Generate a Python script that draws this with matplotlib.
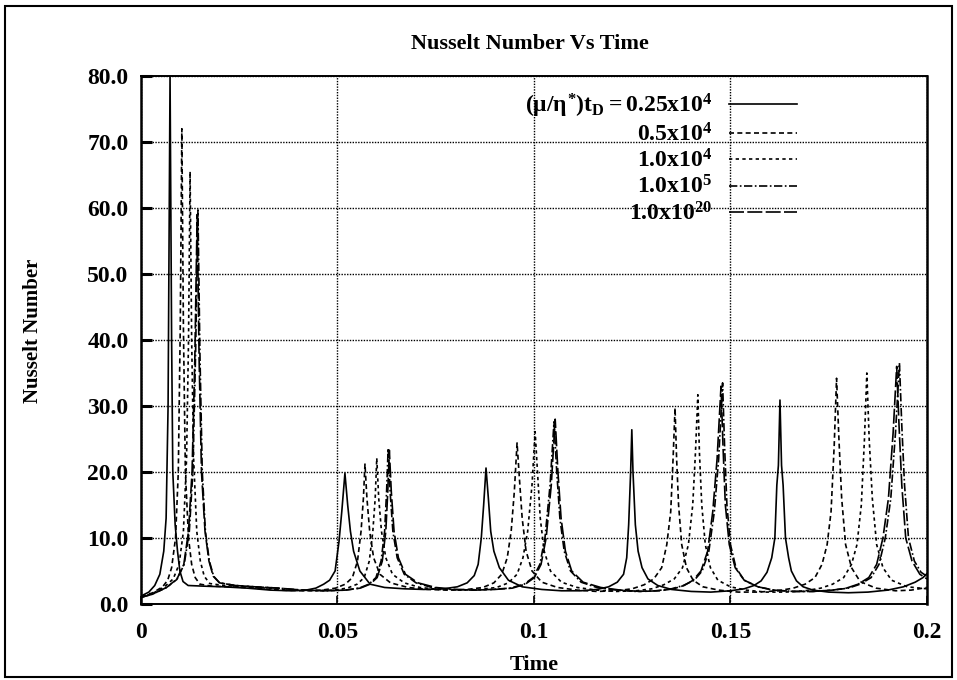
import matplotlib
matplotlib.use('Agg')
import matplotlib.pyplot as plt
from matplotlib.patches import Rectangle

plt.rcParams['font.family'] = ['Liberation Serif', 'DejaVu Serif']
plt.rcParams['font.weight'] = 'bold'
plt.rcParams['mathtext.fontset'] = 'custom'
plt.rcParams['mathtext.rm'] = 'Liberation Serif:bold'
plt.rcParams['mathtext.it'] = 'Liberation Serif:bold'
plt.rcParams['mathtext.bf'] = 'Liberation Serif:bold'

# (mu/eta*) t_D = 0.25x10^4
t_a = [0.000, 0.002, 0.0035, 0.0048, 0.0058, 0.0064, 0.0069, 0.0074, 0.0078, 0.0081, 0.0087, 0.0093, 0.0099, 0.0107,
       0.012, 0.016, 0.021, 0.027, 0.033, 0.038, 0.042, 0.0445, 0.0465, 0.048, 0.0494, 0.0504, 0.0511, 0.0519, 0.0526,
       0.0533, 0.0541, 0.0557, 0.0583, 0.062, 0.067, 0.072, 0.077, 0.0805, 0.083, 0.0848, 0.0858, 0.0866, 0.0872, 0.0878,
       0.0884, 0.089, 0.0898, 0.0912, 0.0935, 0.097, 0.102, 0.107, 0.112, 0.116, 0.119, 0.1212, 0.1228, 0.1236, 0.1241,
       0.1246, 0.1249, 0.1252, 0.1258, 0.1265, 0.1275, 0.129, 0.1315, 0.135, 0.140, 0.145, 0.150, 0.1535, 0.156, 0.1578,
       0.1593, 0.1605, 0.1613, 0.1618, 0.1622, 0.1626, 0.163, 0.1634, 0.164, 0.1648, 0.1655, 0.1668, 0.1685, 0.171, 0.175,
       0.180, 0.185, 0.190, 0.194, 0.197, 0.199, 0.200]
nu_a = [1.2, 1.8, 2.8, 4.5, 8, 13, 30, 80, 40, 20, 12, 8, 5, 3.4,
        2.8, 2.7, 2.6, 2.4, 2.1, 2.0, 2.1, 2.4, 3.0, 3.6, 5.0, 9.5, 14, 19.8, 15,
        11, 8, 5, 3, 2.5, 2.3, 2.2, 2.3, 2.6, 3.2, 4.3, 6, 10, 15, 20.6,
        16, 11, 8, 5.5, 3.6, 2.6, 2.2, 2.0, 2.0, 2.2, 2.6, 3.3, 4.5, 7, 12,
        20, 26.4, 20, 12, 8, 5.5, 3.8, 2.8, 2.2, 1.9, 1.8, 2.0, 2.3, 2.8, 3.5,
        4.8, 7, 10, 18, 21, 30.9, 21, 18, 10, 7, 5, 3.5, 2.6, 2.1, 1.8,
        1.7, 1.8, 2.1, 2.6, 3.3, 4.0, 4.6]

# 0.5x10^4
t_b = [0.000, 0.003, 0.0055, 0.0068, 0.0078, 0.0088, 0.0095, 0.0100, 0.0104, 0.0108, 0.0113, 0.0121, 0.0129, 0.0138,
       0.0150, 0.018, 0.023, 0.029, 0.035, 0.041, 0.046, 0.0495, 0.052, 0.0538, 0.0551, 0.0560, 0.0566, 0.0570, 0.0575,
       0.0582, 0.0592, 0.0608, 0.0635, 0.068, 0.073, 0.078, 0.083, 0.087, 0.0898, 0.0918, 0.0932, 0.0942, 0.0950, 0.0957,
       0.0963, 0.0970, 0.0980, 0.0995, 0.102, 0.106, 0.111, 0.116, 0.121, 0.125, 0.128, 0.1305, 0.1325, 0.1338, 0.1348,
       0.1354, 0.1359, 0.1363, 0.1368, 0.1376, 0.1388, 0.1405, 0.143, 0.147, 0.152, 0.157, 0.162, 0.166, 0.169, 0.1715,
       0.1733, 0.1746, 0.1756, 0.1764, 0.1770, 0.1776, 0.1783, 0.1793, 0.1808, 0.183, 0.187, 0.192, 0.196, 0.200]
nu_b = [1.1, 1.7, 2.6, 3.6, 5.5, 10, 20, 42, 72, 42, 20, 10, 6, 4,
        3.0, 2.7, 2.6, 2.4, 2.1, 2.0, 2.1, 2.4, 3.0, 4.0, 6.5, 11, 16, 21.2, 16,
        11, 7, 4.5, 3.2, 2.5, 2.2, 2.1, 2.2, 2.5, 3.2, 4.5, 7, 11, 17, 24.4,
        19, 13, 8, 5, 3.3, 2.5, 2.1, 1.9, 2.0, 2.3, 2.9, 3.8, 5.5, 9, 14,
        22, 29.7, 22, 15, 9, 5.5, 3.6, 2.6, 2.1, 1.8, 1.8, 2.0, 2.4, 3.0, 4.0,
        6, 9, 14, 24, 34.2, 25, 16, 9, 5.5, 3.4, 2.4, 2.0, 2.1, 2.5]

# 1.0x10^4
t_c = [0.000, 0.003, 0.006, 0.0082, 0.0097, 0.0108, 0.0116, 0.0121, 0.0125, 0.0129, 0.0134, 0.0142, 0.0151, 0.0161,
       0.0175, 0.021, 0.026, 0.032, 0.038, 0.044, 0.049, 0.0525, 0.055, 0.0568, 0.0581, 0.0590, 0.0596, 0.0600, 0.0605,
       0.0612, 0.0623, 0.0640, 0.067, 0.071, 0.076, 0.081, 0.086, 0.0905, 0.0935, 0.0957, 0.0972, 0.0984, 0.0995, 0.1003,
       0.1009, 0.1016, 0.1026, 0.1042, 0.107, 0.111, 0.116, 0.121, 0.126, 0.130, 0.133, 0.1357, 0.1378, 0.1393, 0.1404,
       0.1411, 0.1417, 0.1421, 0.1427, 0.1436, 0.1449, 0.1468, 0.150, 0.154, 0.159, 0.164, 0.169, 0.173, 0.176, 0.1788,
       0.1808, 0.1822, 0.1833, 0.1841, 0.1847, 0.1853, 0.1861, 0.1872, 0.1888, 0.191, 0.195, 0.200]
nu_c = [1.0, 1.6, 2.6, 3.8, 6, 11, 22, 40, 65.5, 40, 22, 11, 6.5, 4.2,
        3.1, 2.8, 2.6, 2.4, 2.1, 2.0, 2.1, 2.4, 3.0, 4.0, 6.5, 11, 16, 22.1, 16,
        11, 7, 4.5, 3.2, 2.5, 2.2, 2.1, 2.2, 2.5, 3.2, 4.5, 7, 11, 18, 26.1,
        20, 13, 8, 5, 3.3, 2.5, 2.1, 1.9, 2.0, 2.3, 2.9, 3.8, 5.5, 9, 15,
        23, 31.7, 23, 15, 9, 5.5, 3.6, 2.6, 2.1, 1.8, 1.8, 2.0, 2.4, 3.0, 4.0,
        6, 9, 15, 25, 35.0, 25, 16, 9, 5.5, 3.6, 2.6, 2.3]

# 1.0x10^5
t_d = [0.000, 0.003, 0.0065, 0.0092, 0.0110, 0.0123, 0.0132, 0.0139, 0.0145, 0.0150, 0.0156, 0.0164, 0.0174, 0.0185,
       0.020, 0.024, 0.029, 0.035, 0.041, 0.047, 0.052, 0.0555, 0.058, 0.0598, 0.0611, 0.0620, 0.0625, 0.0629, 0.0634,
       0.0641, 0.0652, 0.0670, 0.070, 0.074, 0.079, 0.084, 0.089, 0.094, 0.0975, 0.0998, 0.1015, 0.1028, 0.1041, 0.1051,
       0.1058, 0.1066, 0.1077, 0.1093, 0.112, 0.116, 0.121, 0.126, 0.131, 0.135, 0.138, 0.1408, 0.1428, 0.1445, 0.1459,
       0.1470, 0.1480, 0.1485, 0.1491, 0.1500, 0.1514, 0.1535, 0.157, 0.161, 0.166, 0.171, 0.176, 0.180, 0.183, 0.1858,
       0.1878, 0.1894, 0.1908, 0.1920, 0.1930, 0.1936, 0.1943, 0.1953, 0.1968, 0.1985, 0.200]
nu_d = [1.0, 1.5, 2.5, 3.8, 6, 11, 20, 38, 59.7, 38, 20, 11, 6.5, 4.2,
        3.2, 2.8, 2.6, 2.4, 2.1, 2.0, 2.1, 2.4, 3.0, 4.0, 6.5, 11, 17, 23.6, 17,
        11, 7, 4.5, 3.2, 2.5, 2.2, 2.1, 2.2, 2.4, 3.0, 4.0, 6, 10, 18, 27.6,
        20, 13, 8, 5, 3.3, 2.5, 2.1, 1.9, 2.0, 2.3, 2.8, 3.6, 5, 8, 14,
        22, 33.5, 24, 15, 9, 5.5, 3.6, 2.6, 2.1, 1.9, 1.9, 2.1, 2.4, 3.0, 4.0,
        6, 10, 16, 26, 36.5, 27, 18, 10, 6.5, 4.8, 4.2]

# 1.0x10^20
t_e = [0.000, 0.003, 0.0065, 0.0091, 0.0109, 0.0121, 0.0130, 0.0137, 0.0143, 0.0148, 0.0154, 0.0163, 0.0173, 0.0184,
       0.0200, 0.024, 0.029, 0.035, 0.041, 0.047, 0.052, 0.0558, 0.0583, 0.0601, 0.0614, 0.0623, 0.0628, 0.0632, 0.0637,
       0.0644, 0.0655, 0.0673, 0.0705, 0.075, 0.080, 0.085, 0.090, 0.0945, 0.0978, 0.1001, 0.1018, 0.1031, 0.1044, 0.1054,
       0.1061, 0.1069, 0.1080, 0.1096, 0.1125, 0.117, 0.122, 0.127, 0.132, 0.1355, 0.1382, 0.1405, 0.1425, 0.1442, 0.1455,
       0.1466, 0.1476, 0.1481, 0.1487, 0.1497, 0.1512, 0.1535, 0.157, 0.161, 0.166, 0.171, 0.176, 0.1795, 0.1825, 0.1852,
       0.1872, 0.1888, 0.1902, 0.1914, 0.1923, 0.1929, 0.1936, 0.1946, 0.1962, 0.1982, 0.200]
nu_e = [1.0, 1.5, 2.5, 3.7, 6, 11, 20, 37, 59.0, 37, 20, 11, 6.5, 4.2,
        3.2, 2.8, 2.6, 2.4, 2.1, 2.0, 2.1, 2.4, 3.0, 4.0, 6.5, 11, 17, 23.3, 17,
        11, 7, 4.5, 3.2, 2.5, 2.2, 2.1, 2.2, 2.4, 3.0, 4.0, 6, 10, 18, 28.0,
        20, 13, 8, 5, 3.3, 2.5, 2.1, 1.9, 2.0, 2.3, 2.8, 3.6, 5, 8, 14,
        22, 33.0, 24, 15, 9, 5.5, 3.6, 2.6, 2.1, 1.9, 1.9, 2.1, 2.4, 3.0, 4.0,
        6, 10, 16, 26, 36.0, 27, 18, 10, 6.5, 4.5, 3.8]

labels = [r'$(\mu/\eta^{*})t_{D} = 0.25\mathrm{x}10^{4}$',
          r'$0.5\mathrm{x}10^{4}$',
          r'$1.0\mathrm{x}10^{4}$',
          r'$1.0\mathrm{x}10^{5}$',
          r'$1.0\mathrm{x}10^{20}$']

x_ticks = [0, 0.05, 0.1, 0.15, 0.2]
x_ticklabels = ['0', '0.05', '0.1', '0.15', '0.2']
y_ticks = [0, 10, 20, 30, 40, 50, 60, 70, 80]

fig = plt.figure(figsize=(9.57, 6.8), dpi=100)
ax = fig.add_axes([0.1473, 0.1118, 0.8213, 0.7765])

styles = ['-', (0, (3, 2)), (0, (2, 2)), (0, (5, 1.5, 1, 1.5)), (0, (9, 2))]
series = [(t_a, nu_a), (t_b, nu_b), (t_c, nu_c), (t_d, nu_d), (t_e, nu_e)]
for (t, nu), ls, lab in zip(series, styles, labels):
    ax.plot(t, nu, color='black', linestyle=ls, linewidth=1.2, label=lab)

ax.set_xlim(0, 0.2)
ax.set_ylim(0, 80)
ax.set_xticks(x_ticks)
ax.set_xticklabels(x_ticklabels)
ax.set_yticks(y_ticks)
ax.set_yticklabels(['%.1f' % v for v in y_ticks])
ax.tick_params(axis='y', direction='in', length=8, width=2.2, pad=9, labelsize=17)
ax.tick_params(axis='x', direction='in', length=6, width=1.2, pad=13, labelsize=17)
ax.grid(True, color='black', linestyle=(0, (1, 1)), linewidth=1.0)

for side in ['left', 'right']:
    ax.spines[side].set_linewidth(1.8)
for side in ['top', 'bottom']:
    ax.spines[side].set_linestyle((0, (1, 1)))
    ax.spines[side].set_linewidth(1.4)

fig.text(0.554, 0.935, 'Nusselt Number Vs Time', ha='center', va='center', fontsize=16)
fig.text(0.558, 0.022, 'Time', ha='center', va='center', fontsize=16)
fig.text(0.035, 0.514, 'Nusselt Number', ha='center', va='center', rotation=90, fontsize=15)

leg = ax.legend(loc='upper right', bbox_to_anchor=(0.835, 0.97), frameon=False, markerfirst=False,
                fontsize=17, handlelength=2.9, handletextpad=0.7, labelspacing=0.13,
                borderpad=0, borderaxespad=0)

fig.patches.append(Rectangle((0.0052, 0.0044), 0.9896, 0.9868, transform=fig.transFigure,
                             fill=False, edgecolor='black', linewidth=1.5))

fig.savefig('out.png', dpi=100)
